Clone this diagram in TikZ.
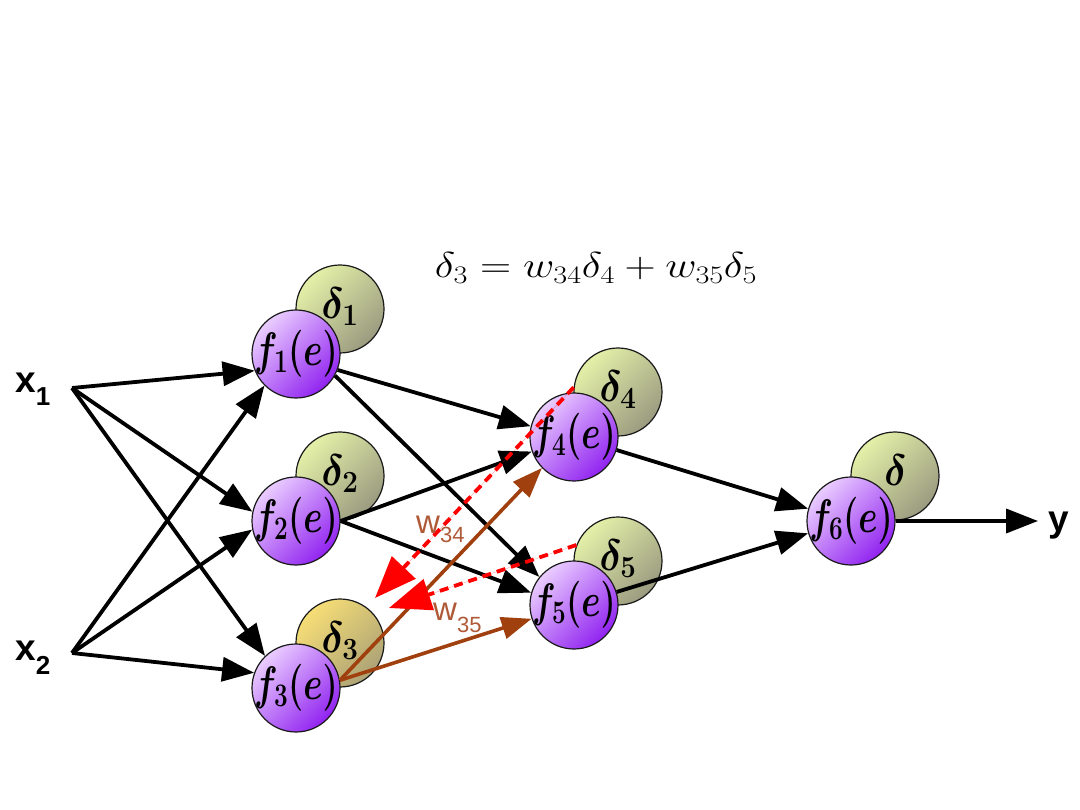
\RequirePackage{fix-cm}
\documentclass[tikz,border=0pt]{standalone}
\usepackage{amsmath}
\usepackage{fontspec}
\setsansfont{Liberation Sans}
\usepackage{graphicx}
\usetikzlibrary{arrows.meta}
\definecolor{fl}{RGB}{234,205,255}
\definecolor{fd}{RGB}{145,35,240}
\definecolor{dl}{RGB}{228,240,168}
\definecolor{dd}{RGB}{155,155,128}
\definecolor{gl}{RGB}{246,222,118}
\definecolor{gd}{RGB}{172,162,118}
\definecolor{brn}{RGB}{160,64,14}
\definecolor{lbl}{RGB}{175,90,55}
\newcommand{\fofe}[1]{\makebox[0pt]{\raisebox{-0.25em}[0pt][0pt]{\scalebox{0.74}[1]{$\boldsymbol{f_{#1}(e)}$}}}}
\newcommand{\dlt}[1]{\makebox[0pt]{\raisebox{-0.22em}[0pt][0pt]{\scalebox{0.9}[1]{$\boldsymbol{\delta_{#1}}$}}}}
\begin{document}
\begin{tikzpicture}[x=1pt,y=-1pt,
  fnode/.style={circle, draw=black!90, line width=1.2pt, minimum size=88pt, inner sep=0pt,
    top color=fl, bottom color=fd, shading angle=45, font=\fontsize{47}{47}\selectfont},
  dnode/.style={circle, draw=black!90, line width=1.2pt, minimum size=88pt, inner sep=0pt,
    top color=dl, bottom color=dd, shading angle=45, font=\fontsize{44}{44}\selectfont},
  gnode/.style={dnode, top color=gl, bottom color=gd, shading angle=45},
  blk/.style={line width=3.8pt, -{Triangle[length=32pt,width=24pt]}},
  brw/.style={draw=brn, fill=brn, line width=3.6pt, -{Triangle[length=30pt,width=22pt]}},
  redd/.style={draw=red, fill=red, line width=3.8pt, dash pattern=on 9pt off 6pt, -{Triangle[length=42pt,width=32pt]}},
  xlab/.style={inner sep=0pt, anchor=base west, font=\sffamily\bfseries\fontsize{37}{37}\selectfont},
  wlab/.style={inner sep=0pt, anchor=base west, text=lbl, font=\sffamily\fontsize{33}{33}\selectfont}
]
\path[use as bounding box] (0,0) rectangle (1080,810);

% equation
\node (eq) at (596,268) {\fontsize{36}{36}\selectfont\scalebox{1.2}[1]{$\delta_3 = w_{34}\delta_4 + w_{35}\delta_5$}};

% delta circles
\node[dnode] (d1) at (340,309) {\dlt{1}};
\node[dnode] (d2) at (340,476) {\dlt{2}};
\node[gnode] (d3) at (340,643) {\dlt{3}};
\node[dnode] (d4) at (618,392) {\dlt{4}};
\node[dnode] (d5) at (618,561) {\dlt{5}};
\node[dnode] (d6) at (895,476) {\dlt{}};

% neuron circles
\node[fnode] (f1) at (296,354) {\fofe{1}};
\node[fnode] (f2) at (296,521) {\fofe{2}};
\node[fnode] (f3) at (296,688) {\fofe{3}};
\node[fnode] (f4) at (574,437) {\fofe{4}};
\node[fnode] (f5) at (574,605) {\fofe{5}};
\node[fnode] (f6) at (851,521) {\fofe{6}};

% inputs / output labels
\node[xlab] (x1) at (15,393) {x\raisebox{-13pt}{\fontsize{26}{26}\selectfont 1}};
\node[xlab] (x2) at (15,660) {x\raisebox{-14pt}{\fontsize{26}{26}\selectfont 2}};
\node[xlab] (y) at (1048,531) {y};
\coordinate (x1p) at (72,388);
\coordinate (x2p) at (72,653);

% black connections
\draw[blk] (x1p) -- (f1.202);
\draw[blk] (x1p) -- (f2.168);
\draw[blk] (x1p) -- (f3.134);
\draw[blk] (x2p) -- (f1.225);
\draw[blk] (x2p) -- (f2.191);
\draw[blk] (x2p) -- (f3.160);
\draw[blk] (f1.-21) -- (f4.166);
\draw[blk] (f1.-29) -- (f5.141);
\draw[blk] (f2.east) -- (f4.199);
\draw[blk] (f2.east) -- (f5.164);
\draw[blk] (f4.-17) -- (f6.164);
\draw[blk] (f5.17) -- (f6.196);
\draw[blk, shorten >=10pt] (f6.east) -- (f6.east -| y.west);

% brown forward weights
\draw[brw] (f3.10) -- (f4.224);
\draw[brw] (f3.10) -- (f5.198);

% red back-propagation
\coordinate (r1) at (375,598);
\coordinate (r2) at (389,608);
\draw[redd] (d4.174) -- (r1);
\draw[redd] (d5.159) -- (r2);

% weight labels
\node[wlab] (w34) at (416,533) {w\raisebox{-9pt}{\fontsize{22}{22}\selectfont 34}};
\node[wlab] (w35) at (433,620) {w\raisebox{-12pt}{\fontsize{22}{22}\selectfont 35}};
\end{tikzpicture}
\end{document}
